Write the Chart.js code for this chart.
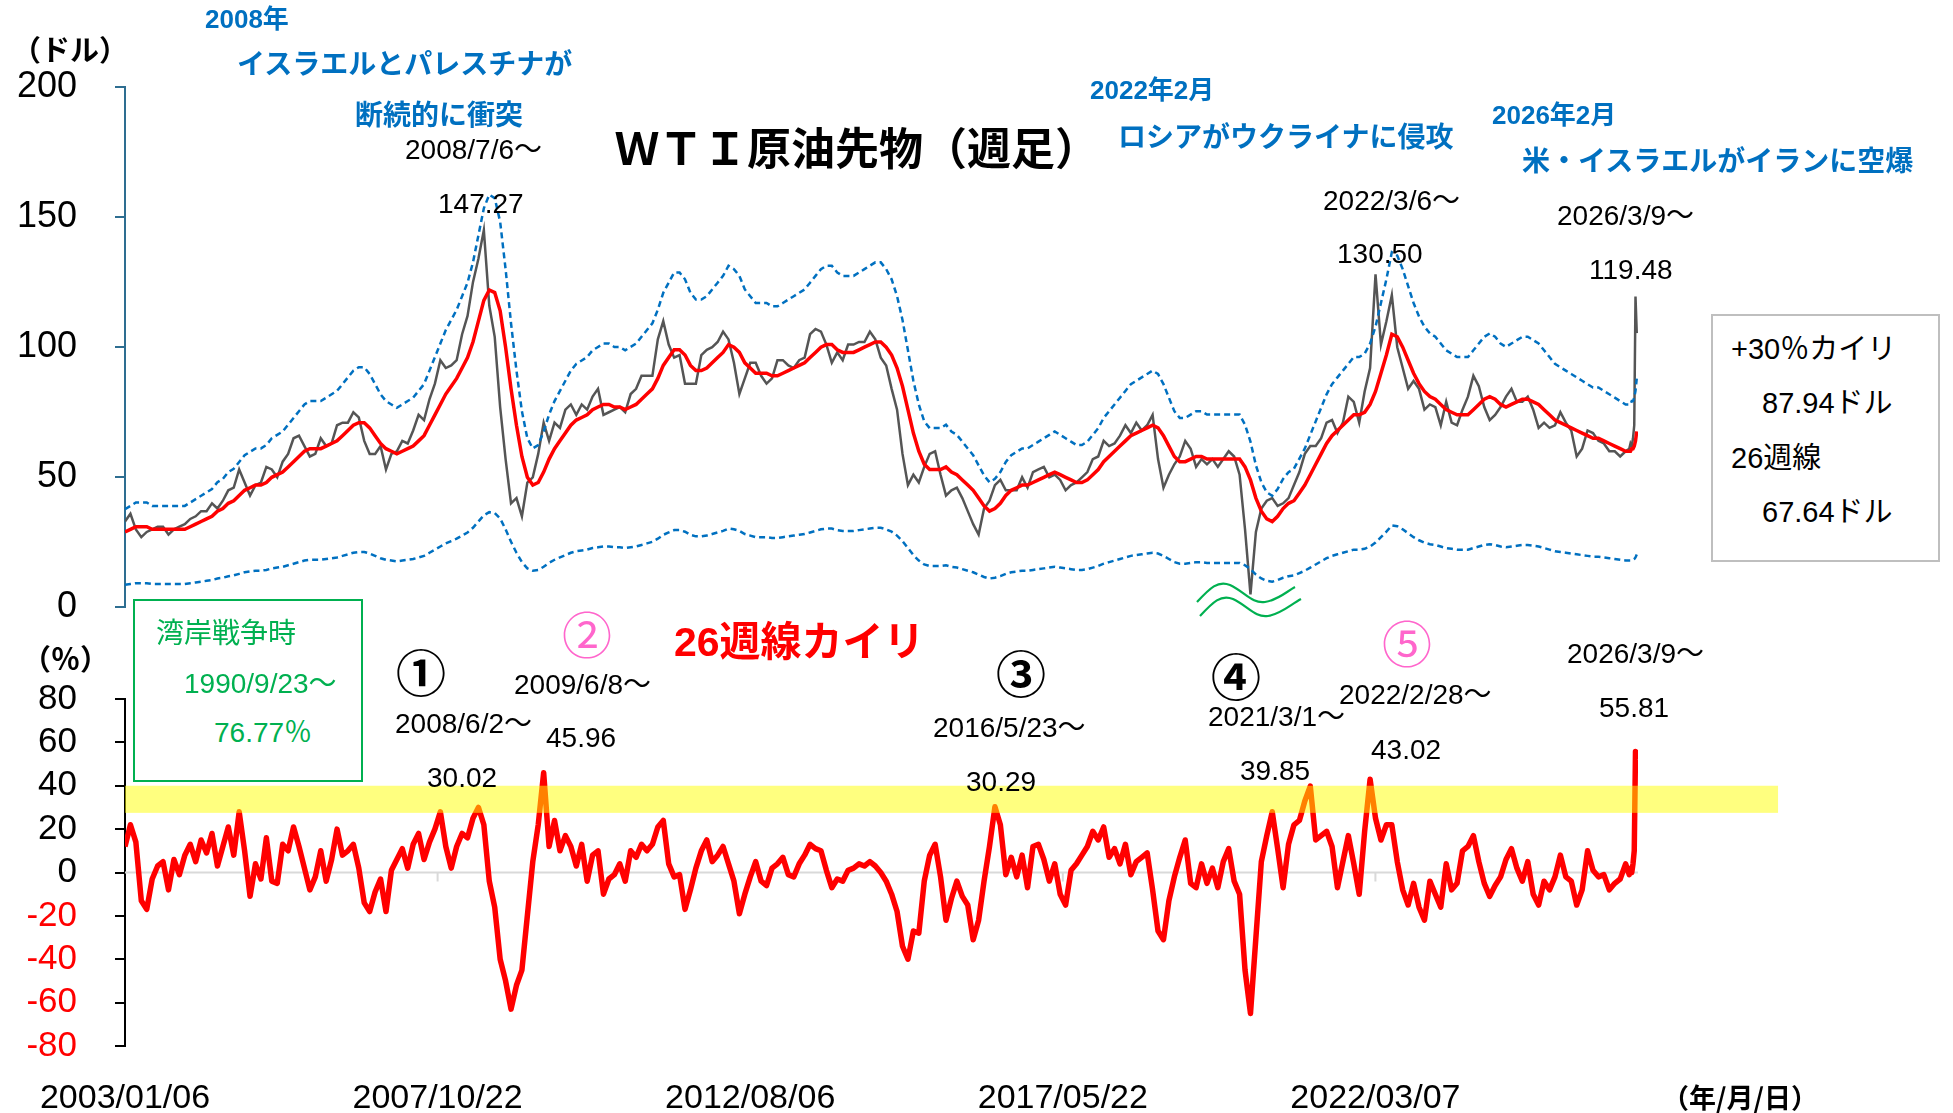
<!DOCTYPE html>
<html lang="ja">
<head>
<meta charset="utf-8">
<script src="https://cdn.jsdelivr.net/npm/chart.js@4.4.1/dist/chart.umd.min.js"></script>
<style>
  body { margin: 0; background: #fff; width: 1953px; height: 1113px; overflow: hidden; position: relative;
         font-family: "Liberation Sans", Arial, "Noto Sans CJK JP", sans-serif; }
  canvas { position: absolute; left: 0; }
  #priceChart { top: 0; }
  #kairiChart { top: 640px; }
  .t { position: absolute; white-space: nowrap; line-height: 1; transform: translateY(-50%); z-index: 2; }
  .blue { color: #0070C0; font-weight: bold; font-size: 28px; font-family: "Liberation Sans", "Noto Sans CJK JP", sans-serif; }
  .note { color: #000; font-size: 28px; }
  .unit { color: #000; font-weight: bold; font-size: 29px; font-family: "Noto Sans CJK JP", sans-serif; }
  .circ { font-size: 50px; font-weight: bold; font-family: "Noto Sans CJK JP", sans-serif; }
  .box { position: absolute; background: #fff; z-index: 1; }
</style>
</head>
<body>
<canvas id="priceChart" width="1953" height="667"></canvas>
<canvas id="kairiChart" width="1953" height="473"></canvas>

<!-- 軸ラベル・タイトル -->
<div class="t unit" style="left:12px;top:48px;">（ドル）</div>
<div class="t unit" style="left:22px;top:657px;">（％）</div>
<div class="t unit" style="left:1662px;top:1096px;font-size:27px;">（年/月/日）</div>
<div class="t" style="left:615px;top:146px;font-size:44px;font-weight:bold;font-family:'Noto Sans CJK JP',sans-serif;">ＷＴＩ原油先物（週足）</div>

<!-- 青い注記 -->
<div class="t blue" style="left:205px;top:19px;font-size:26px;">2008年</div>
<div class="t blue" style="left:237px;top:65px;">イスラエルとパレスチナが</div>
<div class="t blue" style="left:355px;top:116px;">断続的に衝突</div>
<div class="t blue" style="left:1090px;top:90px;font-size:26px;">2022年2月</div>
<div class="t blue" style="left:1118px;top:138px;">ロシアがウクライナに侵攻</div>
<div class="t blue" style="left:1492px;top:115px;font-size:26px;">2026年2月</div>
<div class="t blue" style="left:1522px;top:162px;">米・イスラエルがイランに空爆</div>

<!-- 価格の注記 -->
<div class="t note" style="left:405px;top:150px;">2008/7/6～</div>
<div class="t note" style="left:438px;top:204px;">147.27</div>
<div class="t note" style="left:1323px;top:201px;">2022/3/6～</div>
<div class="t note" style="left:1337px;top:254px;">130.50</div>
<div class="t note" style="left:1557px;top:216px;">2026/3/9～</div>
<div class="t note" style="left:1589px;top:270px;">119.48</div>

<!-- 右の凡例ボックス -->
<div class="box" style="left:1711px;top:314px;width:225px;height:244px;border:2px solid #BFBFBF;"></div>
<div class="t note" style="left:1731px;top:349px;font-size:29px;">+30％カイリ</div>
<div class="t note" style="left:1762px;top:403px;font-size:29px;">87.94ドル</div>
<div class="t note" style="left:1731px;top:458px;font-size:29px;">26週線</div>
<div class="t note" style="left:1762px;top:512px;font-size:29px;">67.64ドル</div>

<!-- 湾岸戦争ボックス -->
<div class="box" style="left:133px;top:599px;width:226px;height:179px;border:2px solid #00B050;"></div>
<div class="t note" style="left:156px;top:634px;color:#00B050;">湾岸戦争時</div>
<div class="t note" style="left:184px;top:684px;color:#00B050;">1990/9/23～</div>
<div class="t note" style="left:214px;top:733px;color:#00B050;">76.77％</div>

<div class="t" style="left:674px;top:642px;font-size:41px;font-weight:bold;color:#FF0000;font-family:'Liberation Sans','Noto Sans CJK JP',sans-serif;">26週線カイリ</div>

<!-- カイリ率の注記 -->
<div class="t circ" style="left:396px;top:670px;">①</div>
<div class="t circ" style="left:562px;top:632px;color:#FF66CC;font-weight:normal;">②</div>
<div class="t circ" style="left:996px;top:671px;">③</div>
<div class="t circ" style="left:1211px;top:674px;">④</div>
<div class="t circ" style="left:1382px;top:641px;color:#FF66CC;font-weight:normal;">⑤</div>
<div class="t note" style="left:395px;top:724px;">2008/6/2～</div>
<div class="t note" style="left:427px;top:778px;">30.02</div>
<div class="t note" style="left:514px;top:685px;">2009/6/8～</div>
<div class="t note" style="left:546px;top:738px;">45.96</div>
<div class="t note" style="left:933px;top:728px;">2016/5/23～</div>
<div class="t note" style="left:966px;top:782px;">30.29</div>
<div class="t note" style="left:1208px;top:717px;">2021/3/1～</div>
<div class="t note" style="left:1240px;top:771px;">39.85</div>
<div class="t note" style="left:1339px;top:695px;">2022/2/28～</div>
<div class="t note" style="left:1371px;top:750px;">43.02</div>
<div class="t note" style="left:1567px;top:654px;">2026/3/9～</div>
<div class="t note" style="left:1599px;top:708px;">55.81</div>

<!-- 波線（省略記号） -->
<svg style="position:absolute;left:0;top:0;z-index:2;" width="1953" height="1113">
  <path d="M1197 602 C1210 588 1218 580 1230 585 C1245 592 1252 604 1265 602 C1278 600 1286 592 1295 587" fill="none" stroke="#00B050" stroke-width="2.2"/>
  <path d="M1200 616 C1213 602 1221 594 1233 599 C1248 606 1255 618 1268 616 C1281 614 1290 605 1301 599" fill="none" stroke="#00B050" stroke-width="2.2"/>
</svg>

<script>
// 週足データ（2003/01/06〜）を月ごとに読み取った値
const WEEKS_PER_MONTH = 4.3482;
const LAST_WEEK = 1210;

// 目盛りラベル（250週ごと）
const tickLabels = ['2003/01/06', '2007/10/22', '2012/08/06', '2017/05/22', '2022/03/07'];

// WTI 終値（ドル） 2003/01 〜 2026/01
const priceMonthly = [
  33, 36, 30, 27, 29, 30, 31, 31, 28, 30, 31, 32,
  34, 35, 37, 37, 40, 38, 41, 45, 46, 53, 48, 43,
  47, 48, 54, 53, 50, 56, 59, 65, 66, 62, 58, 59,
  65, 62, 63, 70, 71, 71, 75, 73, 64, 59, 59, 62,
  53, 59, 60, 64, 63, 68, 74, 72, 80, 86, 95, 92,
  93, 95, 105, 112, 125, 134, 145, 116, 104, 77, 57, 40,
  42, 35, 48, 50, 59, 71, 64, 71, 69, 76, 78, 74,
  78, 76, 81, 84, 74, 75, 76, 77, 75, 82, 84, 89,
  89, 89, 103, 110, 101, 96, 97, 86, 86, 86, 97, 99,
  100, 102, 106, 103, 94, 82, 88, 94, 94, 89, 86, 88,
  95, 95, 93, 92, 95, 96, 105, 107, 106, 101, 94, 98,
  95, 101, 101, 102, 102, 106, 103, 96, 93, 84, 76, 59,
  47, 51, 48, 54, 59, 60, 51, 43, 45, 46, 42, 37,
  32, 28, 38, 41, 47, 49, 45, 45, 45, 50, 46, 52,
  53, 54, 50, 51, 49, 45, 47, 48, 50, 52, 57, 58,
  64, 62, 63, 66, 70, 67, 71, 68, 70, 74, 57, 46,
  51, 55, 58, 64, 61, 54, 57, 55, 57, 54, 57, 60,
  58, 51, 30, 5, 29, 38, 41, 42, 39, 40, 42, 47,
  52, 59, 62, 62, 65, 71, 72, 67, 71, 81, 79, 71,
  83, 92, 128, 101, 110, 120, 100, 92, 84, 87, 84, 76,
  78, 77, 70, 79, 71, 70, 76, 81, 89, 85, 77, 72,
  74, 77, 81, 84, 79, 79, 81, 76, 69, 71, 69, 70,
  75, 71, 68, 58, 61, 68, 67, 64, 63, 60, 60, 58,
  60
];

// 26週移動平均（ドル）
const ma26Monthly = [
  29, 30, 31, 31, 31, 30, 30, 30, 30, 30, 30, 30,
  31, 32, 33, 34, 35, 37, 38, 40, 41, 43, 45, 46,
  47, 47, 48, 50, 51, 52, 54, 56, 58, 60, 61, 61,
  61, 62, 63, 64, 66, 68, 70, 71, 71, 69, 66, 63,
  61, 60, 59, 60, 61, 62, 64, 66, 70, 74, 78, 82,
  85, 88, 92, 96, 102, 110, 118, 122, 121, 114, 100, 84,
  70, 58, 50, 47, 48, 52, 57, 61, 64, 67, 70, 72,
  73, 74, 76, 77, 78, 78, 77, 77, 76, 77, 78, 80,
  82, 84, 88, 93, 96, 99, 99, 97, 93, 91, 91, 92,
  94, 96, 98, 101, 100, 98, 94, 92, 90, 90, 90, 89,
  89, 90, 91, 92, 93, 94, 96, 98, 100, 101, 101, 99,
  98, 98, 98, 99, 100, 101, 102, 102, 100, 97, 92, 85,
  76, 67, 60, 55, 53, 53, 53, 54, 52, 51, 49, 47,
  45, 42, 39, 37, 38, 40, 43, 45, 46, 47, 47, 48,
  49, 50, 51, 52, 51, 50, 49, 48, 48, 49, 51, 53,
  56, 58, 60, 62, 64, 66, 67, 68, 69, 70, 69, 66,
  62, 58, 56, 56, 57, 58, 58, 57, 57, 57, 57, 57,
  57, 57, 54, 49, 42, 37, 34, 33, 35, 38, 40, 41,
  44, 47, 51, 55, 59, 63, 66, 68, 70, 72, 74, 74,
  75, 78, 83, 90, 97, 105, 104, 100, 95, 90, 86, 83,
  81, 80, 78, 76, 75, 74, 74, 74, 76, 78, 80, 81,
  80, 78, 77, 78, 79, 80, 80, 79, 78, 76, 74, 72,
  71, 70, 69, 68, 67, 66, 65, 65, 64, 63, 62, 61,
  60
];

// 26週線カイリ率（％）
const kairiMonthly = [
  12, 22, 14, -13, -17, -3, 3, 5, -8, 6, -1, 8,
  13, 5, 15, 9, 18, 3, 12, 21, 8, 28, 10, -11,
  4, -3, 16, -4, -5, 13, 10, 21, 12, 2, -8, -2,
  10, -4, 6, 20, 8, 10, 13, 2, -14, -18, -9, -3,
  -18, 1, 6, 11, 2, 13, 18, 6, 14, 20, 28, 12,
  2, 12, 18, 16, 25, 30.02, 22, -4, -16, -40, -50, -63,
  -52, -45, -20, 5, 22, 45.96, 12, 24, 10, 17, 12, 3,
  13, -4, 8, 10, -10, -3, -1, 4, -4, 10, 7, 13,
  10, 13, 21, 24, 4, -2, -1, -17, -8, 2, 10, 15,
  5, 8, 12, 4, -4, -19, -10, -2, 5, -4, -6, 2,
  4, 7, -1, -2, 4, 8, 13, 11, 10, 1, -7, -3,
  -4, 1, 2, 4, 3, 5, 3, 0, -4, -10, -18, -34,
  -40, -27, -28, -4, 8, 13, -2, -22, -12, -4, -11, -15,
  -31, -22, -4, 12, 30.29, 22, -1, 7, -2, 8, -7, 12,
  13, 6, -4, 4, -10, -15, 1, 4, 8, 12, 19, 15,
  21, 7, 11, 4, 13, -1, 5, 7, 9, -8, -27, -31,
  -13, -2, 7, 15, -5, -7, 4, -5, 2, -7, 5, 11,
  -4, -10, -45, -65, -30, 5, 17, 28, 11, -7, 13, 22,
  24, 33, 39.85, 15, 17, 19, 12, -7, 5, 17, 4, -10,
  19, 43.02, 25, 15, 22, 22, 5, -8, -15, -5, -16, -22,
  -4, -10, -16, 4, -8, -5, 10, 12, 17, 5, -5, -11,
  -6, -2, 6, 11, 2, -4, 5, -10, -15, -4, -8, -2,
  8, -2, -4, -15, -8, 10, 1, -2, -1, -8, -5, -3,
  4
];

// 直近の週足（1203週目〜1209週目）
const TAIL_START_WEEK = 1203;
const priceTail = [61, 63, 62, 65, 70, 119.48, 105.4];
const ma26Tail = [60, 60, 61, 61, 62, 64, 67.64];
const kairiTail = [-1, 2, 0, 4, 10, 55.81, 52];

// 黄色の帯（30〜40％付近）
const BAND_LOW = 27.5;
const BAND_HIGH = 40;
const BAND_END_WEEK = 1322;

function toPoints(monthly, tail) {
  const pts = monthly.map((v, i) => ({ x: i * WEEKS_PER_MONTH, y: v }));
  tail.forEach((v, j) => pts.push({ x: TAIL_START_WEEK + j, y: v }));
  return pts;
}

const pricePts = toPoints(priceMonthly, priceTail);
const maPts = toPoints(ma26Monthly, ma26Tail);
const upperPts = maPts.map(p => ({ x: p.x, y: p.y * 1.3 }));
const lowerPts = maPts.map(p => ({ x: p.x, y: p.y * 0.3 }));
const kairiPts = toPoints(kairiMonthly, kairiTail);

const FONT = '"Liberation Sans", Arial, sans-serif';

function xScale(showLabels) {
  return {
    type: 'linear',
    min: 0,
    max: LAST_WEEK,
    display: true,
    grid: { display: false, drawTicks: false },
    border: { display: false },
    afterBuildTicks: s => { s.ticks = tickLabels.map((_, i) => ({ value: i * 250 })); },
    ticks: {
      display: showLabels,
      autoSkip: false,
      maxRotation: 0,
      padding: 32,
      color: '#000',
      font: { family: FONT, size: 34 },
      callback: v => tickLabels[Math.round(v / 250)] || ''
    },
    afterFit: s => { s.height = showLabels ? 67 : 0; }
  };
}

// 価格チャート（下側の余白は y 軸ラベルの余白で決まる）
new Chart(document.getElementById('priceChart'), {
  type: 'line',
  data: {
    datasets: [
      { data: maPts, borderColor: '#FF0000', borderWidth: 3.5, order: 0 },
      { data: upperPts, borderColor: '#0070C0', borderWidth: 2.5, borderDash: [6, 4], order: 1 },
      { data: lowerPts, borderColor: '#0070C0', borderWidth: 2.5, borderDash: [6, 4], order: 1 },
      { data: pricePts, borderColor: '#555555', borderWidth: 2.5, order: 2 }
    ]
  },
  options: {
    responsive: false,
    animation: false,
    layout: { padding: { top: 87, bottom: 0, left: 0, right: 315 } },
    elements: { point: { radius: 0 }, line: { tension: 0 } },
    plugins: { legend: { display: false }, tooltip: { enabled: false } },
    scales: {
      x: xScale(false),
      y: {
        min: 0, max: 200,
        border: { color: '#2E6E91', width: 2 },
        grid: { drawOnChartArea: false, color: '#2E6E91', tickLength: 10, lineWidth: 2 },
        ticks: { stepSize: 50, autoSkip: false, padding: 38, color: '#000', font: { family: FONT, size: 36 } },
        afterFit: s => { s.width = 125; }
      }
    }
  }
});

// ゼロ線と黄色の帯
const kairiDecor = {
  id: 'kairiDecor',
  beforeDatasetsDraw(chart) {
    const { ctx, scales: { x, y } } = chart;
    const y0 = y.getPixelForValue(0);
    ctx.save();
    ctx.strokeStyle = '#D9D9D9';
    ctx.lineWidth = 2;
    ctx.beginPath();
    ctx.moveTo(x.getPixelForValue(0), y0);
    ctx.lineTo(x.getPixelForValue(LAST_WEEK), y0);
    for (let w = 250; w < LAST_WEEK; w += 250) {
      ctx.moveTo(x.getPixelForValue(w), y0);
      ctx.lineTo(x.getPixelForValue(w), y0 + 9);
    }
    ctx.stroke();
    ctx.restore();
  },
  afterDatasetsDraw(chart) {
    const { ctx, scales: { x, y } } = chart;
    const top = y.getPixelForValue(BAND_HIGH);
    const bottom = y.getPixelForValue(BAND_LOW);
    const left = x.getPixelForValue(0);
    const right = x.getPixelForValue(BAND_END_WEEK);
    ctx.save();
    ctx.fillStyle = 'rgba(255, 255, 0, 0.5)';
    ctx.fillRect(left, top, right - left, bottom - top);
    ctx.restore();
  }
};

// カイリ率チャート
new Chart(document.getElementById('kairiChart'), {
  type: 'line',
  data: {
    datasets: [
      { data: kairiPts, borderColor: '#FF0000', borderWidth: 5.5, borderJoinStyle: 'round' }
    ]
  },
  options: {
    responsive: false,
    animation: false,
    layout: { padding: { top: 57, bottom: 0, left: 0, right: 315 } },
    elements: { point: { radius: 0 }, line: { tension: 0 } },
    plugins: { legend: { display: false }, tooltip: { enabled: false } },
    scales: {
      x: xScale(true),
      y: {
        min: -80, max: 80,
        border: { color: '#000', width: 2 },
        grid: { drawOnChartArea: false, color: '#000', tickLength: 10, lineWidth: 2 },
        ticks: {
          stepSize: 20, autoSkip: false, padding: 38,
          color: c => c.tick.value < 0 ? '#FF0000' : '#000',
          font: { family: FONT, size: 35 }
        },
        afterFit: s => { s.width = 125; }
      }
    }
  },
  plugins: [kairiDecor]
});
</script>
</body>
</html>
